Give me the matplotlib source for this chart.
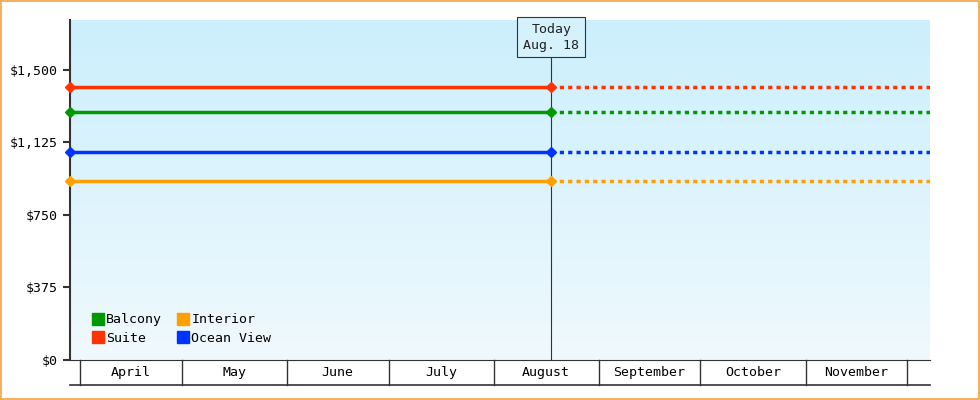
import matplotlib
matplotlib.use("Agg")
import matplotlib.pyplot as plt
import numpy as np
from matplotlib.patches import Rectangle
from matplotlib.lines import Line2D
import matplotlib.transforms as mtransforms

plt.rcParams['font.family'] = ['DejaVu Sans Mono']

months = ["April", "May", "June", "July", "August", "September", "October", "November"]
month_days = [30, 31, 30, 31, 31, 30, 31, 30]
series = ["Suite", "Balcony", "Ocean View", "Interior"]
prices = [1412, 1283, 1076, 926]
colors = ["#ff3300", "#009900", "#0033ff", "#ffa000"]
today_day = 139  # Aug 18, days since April 1
yticks = [0, 375, 750, 1125, 1500]

fig = plt.figure(figsize=(9.8, 4), dpi=100)
fig.patches.append(Rectangle((0.001, 0.002), 0.998, 0.996, transform=fig.transFigure,
                             fill=False, edgecolor="#f5a040", lw=1.2))
ax = fig.add_axes([70/980, 40/400, 860/980, 340/400])
xmin, xmax = -2.95, 250.7
ax.set_xlim(xmin, xmax)
ax.set_ylim(0, 1758)

grad = np.linspace(0, 1, 256).reshape(-1, 1)
from matplotlib.colors import LinearSegmentedColormap
cm = LinearSegmentedColormap.from_list("g", ["#f0f9fe", "#cbeffc"])
ax.imshow(grad, cmap=cm, aspect="auto", extent=[0, 1, 0, 1], transform=ax.transAxes,
          origin="lower", zorder=0)

for name, p, c in zip(series, prices, colors):
    ax.plot([xmin, today_day], [p, p], color=c, lw=2.5, zorder=3, clip_on=False)
    ax.plot([today_day, xmax], [p, p], color=c, lw=2.5, ls=(0, (1.2, 1.2)), zorder=3)
    ax.plot([xmin, today_day], [p, p], ls="none", marker="D", ms=5, color=c, zorder=4, clip_on=False)

ax.axvline(today_day, ymax=(1758 - 0) / 1758, color="#333333", lw=0.8, zorder=2)
ax.text(today_day, 1670, "Today\nAug. 18", ha="center", va="center", fontsize=9.5,
        color="#222222", zorder=5, linespacing=1.3,
        bbox=dict(boxstyle="square,pad=0.45", fc="#d4f1fc", ec="#333333", lw=0.8))

for s in ["top", "right"]:
    ax.spines[s].set_visible(False)
ax.spines["left"].set_linewidth(1.5)
ax.spines["left"].set_color("#333333")
ax.spines["bottom"].set_color("#333333")
ax.set_yticks(yticks)
ax.set_yticklabels(["$" + f"{v:,}" for v in yticks], fontsize=9.5)
ax.tick_params(axis="y", length=5, width=1.5, color="#333333")
ax.set_xticks([])

trans = mtransforms.blended_transform_factory(ax.transData, ax.transAxes)
bounds = np.concatenate([[0], np.cumsum(month_days)])
hbot = -25 / 340
ax.plot([xmin, xmax], [hbot, hbot], transform=trans, color="#333333", lw=1.2, clip_on=False)
for b in bounds:
    ax.plot([b, b], [0, hbot], transform=trans, color="#333333", lw=1, clip_on=False)
for m, a, b in zip(months, bounds[:-1], bounds[1:]):
    ax.text((a + b) / 2, hbot / 2, m, transform=trans, ha="center", va="center", fontsize=9.5)

order = [1, 0, 3, 2]
handles = [Line2D([], [], ls="none", marker="s", ms=8, color=colors[i]) for i in order]
ax.legend(handles, [series[i] for i in order], ncol=2, loc="lower left",
          bbox_to_anchor=(0.01, 0.01), frameon=False, fontsize=9.5,
          handletextpad=0.0, columnspacing=1.0, labelspacing=0.4, handlelength=1.2)

fig.savefig("out.png", dpi=100)
